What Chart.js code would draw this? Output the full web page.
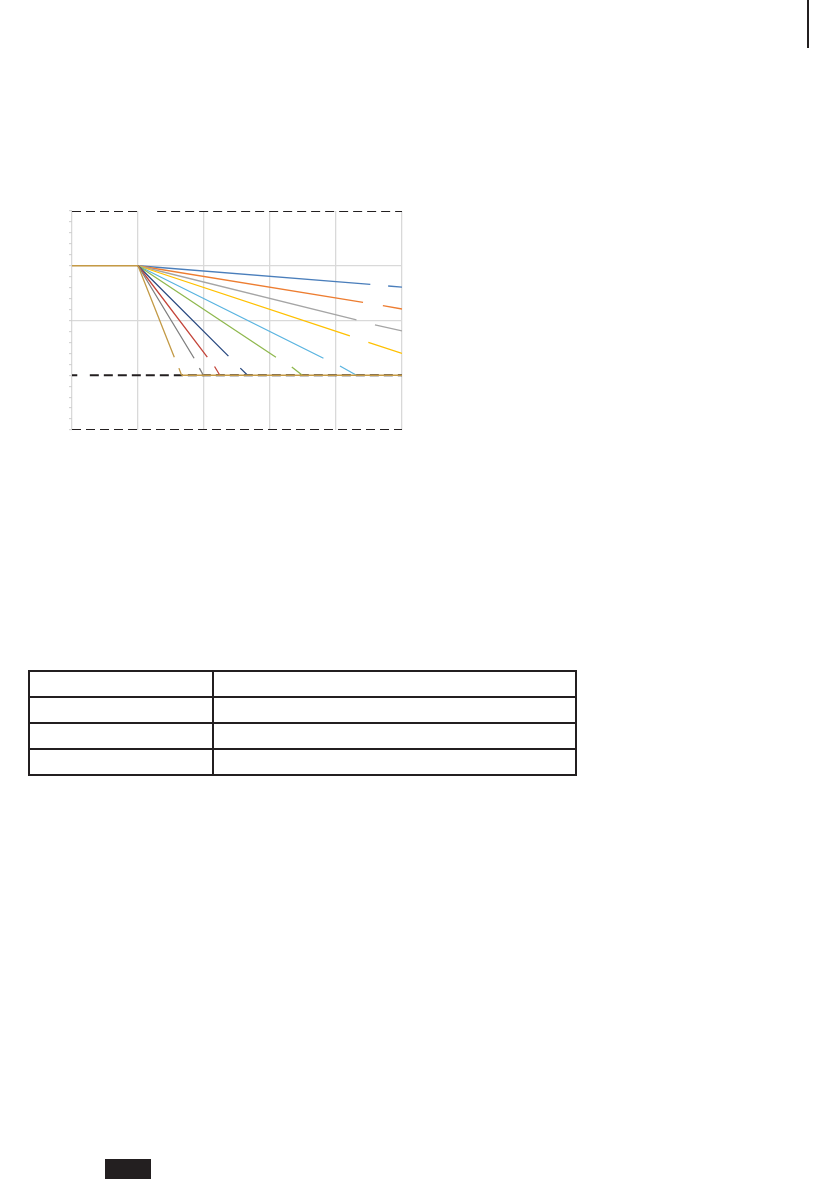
<!DOCTYPE html>
<html>
<head>
<meta charset="utf-8">
<script src="https://cdn.jsdelivr.net/npm/chart.js@4.4.1/dist/chart.umd.min.js"></script>
<style>
    body { margin: 0; background: #fff; width: 839px; height: 1191px; position: relative; overflow: hidden; }
    #chartBox { position: absolute; left: 60px; top: 200px; }
    #edgeMark { position: absolute; left: 807px; top: 0; width: 2px; height: 48px; background: #231f20; }
    #footTab { position: absolute; left: 105px; top: 1159px; width: 46px; height: 20px; background: #231f20; }
    table { position: absolute; left: 28px; top: 670px; width: 549px; border-collapse: collapse; }
    td { border: 2px solid #231f20; height: 24px; padding: 0; font-family: "Liberation Sans", sans-serif; font-size: 12px; }
    td.first { width: 182px; }
</style>
</head>
<body>
<div id="edgeMark"></div>
<div id="chartBox"><canvas id="myChart" width="350" height="240"></canvas></div>
<table>
    <tr><td class="first"></td><td></td></tr>
    <tr><td class="first"></td><td></td></tr>
    <tr><td class="first"></td><td></td></tr>
    <tr><td class="first"></td><td></td></tr>
</table>
<div id="footTab"></div>
<script>
// axis ranges
const xTicks = [0, 1, 2, 3, 4, 5];
const yTicks = [0, 1, 2, 3, 4];

// flat part before the fan and the floor line
const plateau = [[0, 3], [1, 3]];
const floorLine = [[1.66, 1], [5, 1]];

// the fan of curves, each broken where a label sat
const curveBlue = [[1, 3], [4.52, 2.66], null, [4.79, 2.63], [5, 2.61]];
const curveOrange = [[1, 3], [4.41, 2.33], null, [4.71, 2.27], [5, 2.21]];
const curveGray = [[1, 3], [4.31, 2.01], null, [4.59, 1.92], [5, 1.81]];
const curveYellow = [[1, 3], [4.21, 1.72], null, [4.49, 1.60], [5, 1.40]];
const curveSky = [[1, 3], [3.81, 1.31], null, [4.06, 1.17], [4.31, 1]];
const curveGreen = [[1, 3], [3.09, 1.33], null, [3.33, 1.15], [3.49, 1]];
const curveNavy = [[1, 3], [2.37, 1.35], null, [2.55, 1.13], [2.66, 1]];
const curveRed = [[1, 3], [2.05, 1.33], null, [2.16, 1.16], [2.24, 1]];
const curveSlate = [[1, 3], [1.85, 1.31], null, [1.93, 1.13], [1.99, 1]];
const curveGold = [[1, 3], [1.55, 1.33], null, [1.62, 1.13], [1.66, 1]];

// dashed limit lines
const limitTop = [[0, 4], [1, 4], null, [1.29, 4], [5, 4]];
const limitMid = [[0, 1], [0.08, 1], null, [0.27, 1], [5, 1]];
const limitBottom = [[0, 0], [5, 0]];

function toPoints(list) {
    return list.map(p => p ? { x: p[0], y: p[1] } : { x: NaN, y: null });
}

function lineSet(list, color, width, dash) {
    return {
        data: toPoints(list),
        borderColor: color,
        borderWidth: width,
        borderDash: dash || [],
        pointRadius: 0,
        fill: false,
        tension: 0,
        spanGaps: false,
        borderCapStyle: 'butt'
    };
}

function createChart() {
    const ctx = document.getElementById('myChart').getContext('2d');
    const gold = '#c59a45';
    new Chart(ctx, {
        type: 'line',
        data: {
            datasets: [
                lineSet(plateau, gold, 1.6),
                lineSet(floorLine, gold, 1.6),
                lineSet(curveGold, '#c39a46', 1.3),
                lineSet(curveSlate, '#7f7f7f', 1.3),
                lineSet(curveRed, '#c4453a', 1.3),
                lineSet(curveNavy, '#2a4a80', 1.3),
                lineSet(curveGreen, '#8fb84e', 1.3),
                lineSet(curveSky, '#5ab4e0', 1.3),
                lineSet(curveYellow, '#ffc000', 1.3),
                lineSet(curveGray, '#a5a5a5', 1.3),
                lineSet(curveOrange, '#ed7d31', 1.3),
                lineSet(curveBlue, '#4a7ebb', 1.3),
                lineSet(limitTop, '#231f20', 2, [9, 5]),
                lineSet(limitMid, '#231f20', 2, [9, 5]),
                lineSet(limitBottom, '#231f20', 2, [9, 5])
            ]
        },
        options: {
            responsive: false,
            animation: false,
            events: [],
            layout: { padding: { left: 9, right: 8, top: 11, bottom: 10 } },
            plugins: { legend: { display: false }, tooltip: { enabled: false } },
            scales: {
                x: {
                    type: 'linear',
                    min: xTicks[0],
                    max: xTicks[xTicks.length - 1],
                    ticks: { display: false, stepSize: 1 },
                    grid: { color: '#d9d9d9', lineWidth: 1.3, drawTicks: false },
                    border: { display: false }
                },
                y: {
                    min: yTicks[0],
                    max: yTicks[yTicks.length - 1],
                    ticks: { display: false, stepSize: 0.2 },
                    grid: {
                        color: c => {
                            const v = c.tick ? c.tick.value : 0;
                            return (Math.abs(v - Math.round(v)) < 1e-6 && (Math.round(v) === 2 || Math.round(v) === 3)) ? '#d9d9d9' : 'rgba(0,0,0,0)';
                        },
                        lineWidth: 1.3,
                        drawTicks: true,
                        tickLength: 3,
                        tickColor: '#cfcfcf',
                        tickWidth: 1
                    },
                    border: { display: false }
                }
            }
        }
    });
}

createChart();
</script>
</body>
</html>
